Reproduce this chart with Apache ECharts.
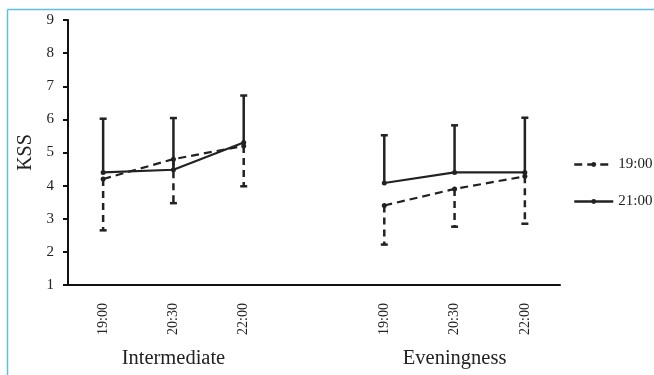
<!DOCTYPE html>
<html>
<head>
<meta charset="utf-8">
<script src="https://cdn.jsdelivr.net/npm/echarts@6/dist/echarts.min.js"></script>
<style>html,body{margin:0;padding:0;background:#fff}#c{width:654px;height:375px}</style>
</head>
<body>
<div id="c"></div>
<script>
var categories = ['19:00', '20:30', '22:00', '', '19:00', '20:30', '22:00'];
var groupLabels = ['', 'Intermediate', '', '', '', 'Eveningness', ''];
var yTicks = [1, 2, 3, 4, 5, 6, 7, 8, 9];
var mean1900 = [4.2, 4.8, 5.2, null, 3.4, 3.9, 4.28];
var low1900 = [2.65, 3.47, 3.98, null, 2.22, 2.76, 2.85];
var mean2100 = [4.4, 4.48, 5.3, null, 4.08, 4.4, 4.4];
var high2100 = [6.02, 6.04, 6.72, null, 5.52, 5.82, 6.05];

var FONT = 'Liberation Serif';
var chart = echarts.init(document.getElementById('c'));

function errData(mean, ext) {
  var out = [];
  for (var i = 0; i < mean.length; i++) {
    if (mean[i] != null) out.push([i, mean[i], ext[i]]);
  }
  return out;
}
function errRender(dashed) {
  return function (params, api) {
    var p0 = api.coord([api.value(0), api.value(1)]);
    var p1 = api.coord([api.value(0), api.value(2)]);
    var style = { stroke: '#222', lineWidth: 2.5, lineDash: dashed ? [7, 5] : null };
    return {
      type: 'group',
      children: [
        { type: 'line', shape: { x1: p0[0], y1: p0[1], x2: p1[0], y2: p1[1] }, style: style },
        { type: 'line', shape: { x1: p1[0] - 3.5, y1: p1[1], x2: p1[0] + 3.5, y2: p1[1] }, style: { stroke: '#222', lineWidth: 2.5 } }
      ]
    };
  };
}

chart.setOption({
  animation: false,
  backgroundColor: '#fff',
  grid: { left: 68, top: 20, right: 94, bottom: 90 },
  legend: {
    orient: 'vertical',
    left: 568,
    top: 152,
    padding: 5,
    itemWidth: 39,
    itemHeight: 6,
    itemGap: 22,
    lineStyle: { width: 2.5 },
    data: ['19:00', '21:00'],
    textStyle: { fontFamily: FONT, fontSize: 15, color: '#222' }
  },
  xAxis: [{
    type: 'category',
    data: categories,
    axisLine: { lineStyle: { color: '#111', width: 2 } },
    axisTick: { show: false },
    axisLabel: { rotate: 90, margin: 18, fontFamily: FONT, fontSize: 14, color: '#222' }
  }, {
    type: 'category',
    data: groupLabels,
    position: 'bottom',
    axisLine: { show: false },
    axisTick: { show: false },
    axisLabel: { interval: 0, margin: 63, fontFamily: FONT, fontSize: 20.5, color: '#222' }
  }],
  yAxis: {
    type: 'value',
    min: yTicks[0],
    max: yTicks[yTicks.length - 1],
    interval: 1,
    name: 'KSS',
    nameLocation: 'middle',
    nameGap: 32,
    nameTextStyle: { fontFamily: FONT, fontSize: 20, color: '#222' },
    splitLine: { show: false },
    axisLine: { show: true, lineStyle: { color: '#111', width: 2 } },
    axisTick: { show: true, length: 5, lineStyle: { color: '#111', width: 2 } },
    axisLabel: { margin: 14, fontFamily: FONT, fontSize: 15, color: '#222' }
  },
  series: [{
    name: '19:00',
    type: 'line',
    data: mean1900,
    symbol: 'circle',
    symbolSize: 5,
    itemStyle: { color: '#222' },
    lineStyle: { color: '#222', width: 2.2, type: [8, 5] },
    z: 3
  }, {
    name: '21:00',
    type: 'line',
    data: mean2100,
    symbol: 'circle',
    symbolSize: 5,
    itemStyle: { color: '#222' },
    lineStyle: { color: '#222', width: 2.2 },
    z: 3
  }, {
    type: 'custom',
    data: errData(mean1900, low1900),
    renderItem: errRender(true),
    encode: { x: 0, y: [1, 2] },
    z: 2
  }, {
    type: 'custom',
    data: errData(mean2100, high2100),
    renderItem: errRender(false),
    encode: { x: 0, y: [1, 2] },
    z: 2
  }],
  graphic: [
    { type: 'line', shape: { x1: 7.5, y1: 9.5, x2: 654, y2: 9.5 }, style: { stroke: '#5bbfe8', lineWidth: 1.5 } },
    { type: 'line', shape: { x1: 7.5, y1: 9.5, x2: 7.5, y2: 375 }, style: { stroke: '#5bbfe8', lineWidth: 1.5 } }
  ]
});
</script>
</body>
</html>
